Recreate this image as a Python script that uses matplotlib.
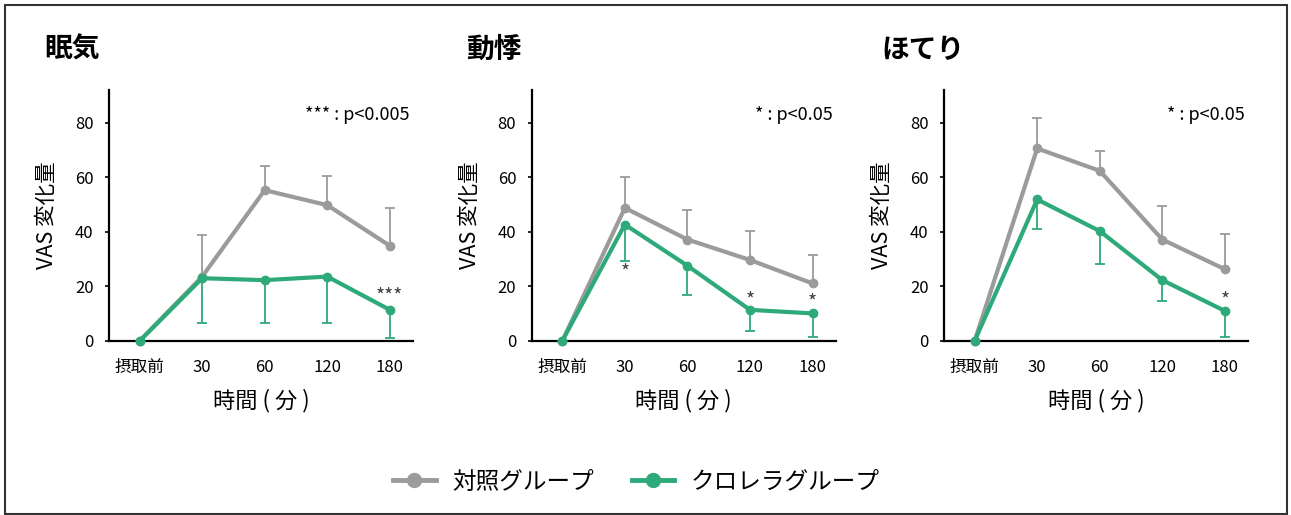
import matplotlib
matplotlib.use('Agg')
import matplotlib.pyplot as plt
from matplotlib.lines import Line2D
from matplotlib.patches import Rectangle

plt.rcParams['font.family'] = ['Noto Sans CJK JP', 'DejaVu Sans']

# データ
categories = ['摂取前', '30', '60', '120', '180']
titles = ['眠気', '動悸', 'ほてり']
p_notes = ['*** : p<0.005', '* : p<0.05', '* : p<0.05']

ctrl_sleepy = [0, 23.6, 55.3, 49.8, 34.9]
ctrl_sleepy_err = [0, 15.1, 8.7, 10.8, 13.7]
chl_sleepy = [0, 23.0, 22.3, 23.6, 11.4]
chl_sleepy_err = [0, 16.4, 15.7, 17.0, 10.4]

ctrl_palp = [0, 48.8, 37.2, 29.7, 21.1]
ctrl_palp_err = [0, 11.2, 10.8, 10.7, 10.3]
chl_palp = [0, 42.7, 27.6, 11.4, 10.1]
chl_palp_err = [0, 13.2, 10.6, 7.6, 8.6]

ctrl_hot = [0, 70.6, 62.4, 37.2, 26.3]
ctrl_hot_err = [0, 11.2, 7.3, 12.4, 12.9]
chl_hot = [0, 51.9, 40.3, 22.3, 11.0]
chl_hot_err = [0, 10.9, 12.2, 7.5, 9.5]

# 有意差マーク (カテゴリ番号, 高さ, 記号)
sig_sleepy = [(4, 16.0, '***')]
sig_palp = [(1, 25.0, '*'), (3, 14.8, '*'), (4, 14.0, '*')]
sig_hot = [(4, 14.8, '*')]

GRAY = '#9b9b9b'
GREEN = '#2eaa7a'

panels = [
    (ctrl_sleepy, ctrl_sleepy_err, chl_sleepy, chl_sleepy_err, sig_sleepy),
    (ctrl_palp, ctrl_palp_err, chl_palp, chl_palp_err, sig_palp),
    (ctrl_hot, ctrl_hot_err, chl_hot, chl_hot_err, sig_hot),
]

fig = plt.figure(figsize=(12.91, 5.15), dpi=100)

ax_lefts = [0.0844, 0.4118, 0.7312]
title_x = [0.034, 0.361, 0.683]

for i, (ctrl, ctrl_err, chl, chl_err, sig) in enumerate(panels):
    ax = fig.add_axes([ax_lefts[i], 0.338, 0.2355, 0.487])
    x = list(range(len(categories)))

    # 対照グループ (上向きエラーバー)
    eb = ax.errorbar(x[1:], ctrl[1:], yerr=[[0] * 4, ctrl_err[1:]], fmt='none',
                     ecolor=GRAY, elinewidth=1.3, capsize=3.5, capthick=1.3, zorder=2)
    eb[1][0].set_visible(False)
    ax.plot(x, ctrl, color=GRAY, lw=3, marker='o', ms=6, zorder=3, clip_on=False)

    # クロレラグループ (下向きエラーバー)
    eb = ax.errorbar(x[1:], chl[1:], yerr=[chl_err[1:], [0] * 4], fmt='none',
                     ecolor=GREEN, elinewidth=1.3, capsize=3.5, capthick=1.3, zorder=4)
    eb[1][1].set_visible(False)
    ax.plot(x, chl, color=GREEN, lw=3, marker='o', ms=6, zorder=5, clip_on=False)

    for idx, yv, mark in sig:
        ax.text(idx, yv, mark, ha='center', va='center', fontsize=14, color='#444444')

    ax.set_xlim(-0.49, 4.37)
    ax.set_ylim(0, 92)
    ax.set_yticks([0, 20, 40, 60, 80])
    ax.set_xticks(x)
    ax.set_xticklabels(categories)
    ax.tick_params(axis='y', length=3, width=1.2, pad=8, labelsize=12)
    ax.tick_params(axis='x', length=0, pad=13, labelsize=12)
    for s in ['top', 'right']:
        ax.spines[s].set_visible(False)
    for s in ['left', 'bottom']:
        ax.spines[s].set_linewidth(1.6)
        ax.spines[s].set_color('black')

    ax.set_ylabel('VAS 変化量', fontsize=15.5)
    ax.yaxis.set_label_coords(-0.168, 0.5)
    ax.set_xlabel('時間 ( 分 )', fontsize=16)
    ax.xaxis.set_label_coords(0.5, -0.19)

    ax.text(0.99, 0.90, p_notes[i], transform=ax.transAxes, ha='right', va='center',
            fontsize=13)

    fig.text(title_x[i], 0.903, titles[i], fontsize=20, fontweight='bold',
             ha='left', va='center')

# 凡例
handles = [
    Line2D([], [], color=GRAY, lw=3.5, marker='o', ms=10),
    Line2D([], [], color=GREEN, lw=3.5, marker='o', ms=10),
]
fig.legend(handles, ['対照グループ', 'クロレラグループ'], loc='center',
           bbox_to_anchor=(0.493, 0.064), ncol=2, frameon=False, fontsize=17,
           handlelength=1.8, handletextpad=0.7, columnspacing=1.6)

# 外枠
fig.patches.append(Rectangle((0.004, 0.002), 0.993, 0.988, transform=fig.transFigure,
                             fill=False, edgecolor='#333333', lw=1.5))

fig.savefig('out.png', dpi=100)
